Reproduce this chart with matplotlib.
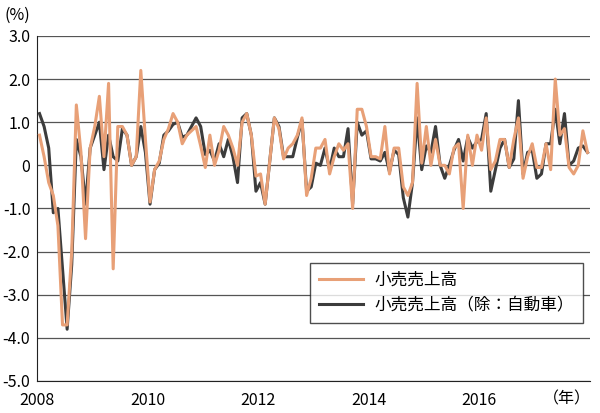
import matplotlib
matplotlib.use("Agg")
import matplotlib.pyplot as plt
import numpy as np

plt.rcParams['font.family'] = ['Noto Sans CJK JP', 'DejaVu Sans']

# monthly % change, Jan 2008 - Dec 2017
retail = [0.7, 0.2, -0.4, -0.7, -1.4, -3.7, -3.7, -2.0, 1.4, 0.3, -1.7, 0.4,
          0.9, 1.6, 0.2, 1.9, -2.4, 0.9, 0.9, 0.7, 0.0, 0.2, 2.2, 0.6,
          -0.85, -0.1, 0.1, 0.6, 0.85, 1.2, 1.0, 0.5, 0.7, 0.8, 0.9, 0.45,
          -0.05, 0.7, 0.0, 0.35, 0.9, 0.7, 0.4, 0.0, 1.0, 1.2, 0.7, -0.25,
          -0.2, -0.9, 0.1, 1.1, 0.85, 0.15, 0.4, 0.5, 0.7, 1.1, -0.7, -0.3,
          0.4, 0.4, 0.6, -0.2, 0.2, 0.5, 0.35, 0.5, -1.0, 1.3, 1.3, 0.9,
          0.2, 0.2, 0.15, 0.9, -0.2, 0.4, 0.4, -0.5, -0.7, -0.4, 1.9, 0.05,
          0.9, 0.0, 0.6, 0.0, 0.0, -0.2, 0.4, 0.5, -1.0, 0.7, 0.0, 0.7,
          0.35, 1.1, -0.1, 0.1, 0.6, 0.6, -0.05, 0.6, 1.1, -0.3, 0.2, 0.5,
          -0.05, -0.05, 0.5, -0.1, 2.0, 0.7, 0.85, -0.05, -0.2, 0.0, 0.8, 0.3]

retail_ex_auto = [1.2, 0.9, 0.4, -1.1, -1.0, -2.4, -3.8, -2.3, 0.6, 0.2, -0.9, 0.4,
                  0.7, 1.0, -0.1, 0.7, 0.2, 0.1, 0.85, 0.7, 0.0, 0.2, 0.9, 0.3,
                  -0.9, -0.1, 0.05, 0.7, 0.8, 0.95, 1.0, 0.65, 0.7, 0.9, 1.1, 0.9,
                  0.25, 0.35, 0.1, 0.5, 0.2, 0.6, 0.2, -0.4, 1.1, 1.2, 0.7, -0.6,
                  -0.4, -0.9, 0.1, 1.1, 0.9, 0.2, 0.2, 0.2, 0.65, 1.05, -0.6, -0.5,
                  0.05, 0.0, 0.4, -0.1, 0.4, 0.2, 0.2, 0.85, -0.9, 1.0, 0.7, 0.8,
                  0.15, 0.15, 0.1, 0.3, -0.15, 0.35, 0.25, -0.75, -1.2, -0.4, 1.1, -0.1,
                  0.45, 0.3, 0.9, 0.0, -0.3, 0.0, 0.35, 0.6, 0.1, 0.65, 0.4, 0.55,
                  0.6, 1.2, -0.6, -0.1, 0.4, 0.6, -0.05, 0.15, 1.5, -0.2, 0.3, 0.35,
                  -0.3, -0.2, 0.5, 0.5, 1.3, 0.5, 1.2, 0.0, 0.1, 0.4, 0.45, 0.3]

labels = ['小売売上高', '小売売上高（除：自動車）']
year_ticks = [2008, 2010, 2012, 2014, 2016]
y_ticks = [3, 2, 1, 0, -1, -2, -3, -4, -5]
y_ticklabels = ['3.0', '2.0', '1.0', '0', '-1.0', '-2.0', '-3.0', '-4.0', '-5.0']

t = 2008 + (np.arange(len(retail)) + 0.5) / 12

fig = plt.figure(figsize=(6, 4.13), dpi=100)
ax = fig.add_axes([0.062, 0.0775, 0.921, 0.8355])

ax.plot(t, retail_ex_auto, color='#3c3c3c', lw=2.2, label=labels[1], zorder=3)
ax.plot(t, retail, color='#e8a077', lw=2.2, label=labels[0], zorder=4)

ax.set_xlim(2008, 2018)
ax.set_ylim(-5, 3)
ax.set_yticks(y_ticks)
ax.set_yticklabels(y_ticklabels)
ax.set_xticks(year_ticks)
ax.set_xticklabels([str(y) for y in year_ticks])
ax.tick_params(axis='both', labelsize=11.5, length=0)
ax.tick_params(axis='y', pad=5)
ax.tick_params(axis='x', pad=8)

ax.grid(axis='y', color='#555555', lw=0.9)
ax.set_axisbelow(True)
for s in ['top', 'right']:
    ax.spines[s].set_visible(False)
ax.spines['left'].set_color('#222222')
ax.spines['bottom'].set_color('#222222')

fig.text(0.008, 0.962, '(%)', fontsize=11.5, ha='left', va='center')
fig.text(0.985, 0.035, '（年）', fontsize=11.5, ha='right', va='center')

handles, lbls = ax.get_legend_handles_labels()
leg = ax.legend(handles[::-1], lbls[::-1], loc='upper left',
                bbox_to_anchor=(0.494, 0.342), borderaxespad=0, fontsize=12,
                frameon=True, fancybox=False, edgecolor='#222222',
                handlelength=2.6, borderpad=0.55, labelspacing=0.45,
                handletextpad=0.7)
leg.get_frame().set_linewidth(1.0)

fig.savefig('out.png', dpi=100)
